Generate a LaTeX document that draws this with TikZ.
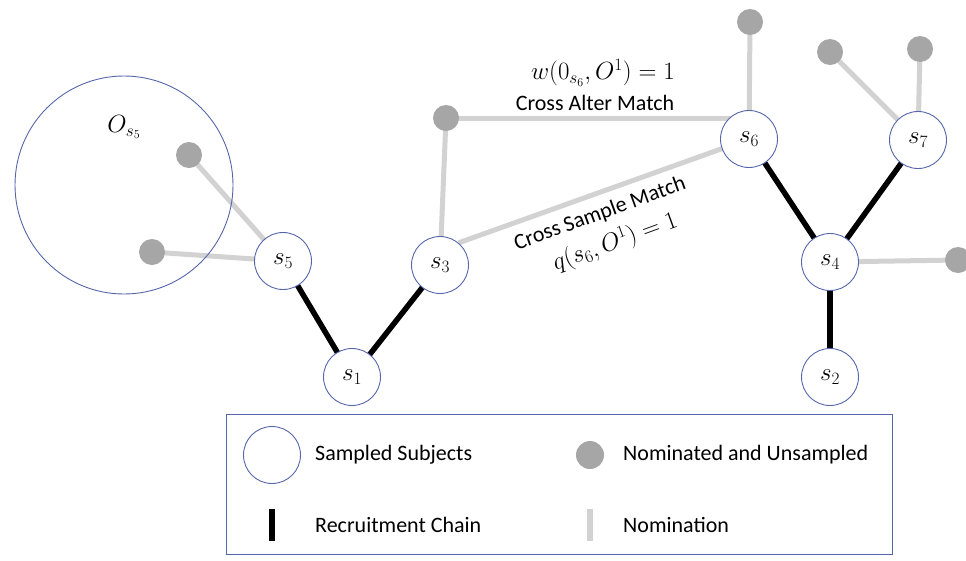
\documentclass[tikz,border=0pt]{standalone}
\usepackage{fontspec}
\setmainfont{Carlito}
\usetikzlibrary{backgrounds}
\definecolor{nodeblue}{HTML}{5566AA}
\definecolor{dotgray}{HTML}{A6A6A6}
\definecolor{linegray}{HTML}{D2D2D2}
\begin{document}
\begin{tikzpicture}[x=1pt,y=-1pt,
  subj/.style={circle,draw=nodeblue,fill=white,line width=0.9pt,minimum size=57pt,inner sep=0pt,font=\fontsize{24}{26}\selectfont},
  gdot/.style={circle,fill=dotgray,minimum size=26pt,inner sep=0pt},
  nom/.style={draw=linegray,line width=5pt},
  rec/.style={draw=black,line width=5.5pt},
  lbl/.style={font=\fontsize{22}{24}\selectfont,inner sep=0pt},
  mlbl/.style={font=\fontsize{26}{28}\selectfont,inner sep=0pt},
  legtext/.style={font=\fontsize{22}{24}\selectfont,anchor=west,inner sep=0pt}]
\useasboundingbox (0,0) rectangle (966,560);
% big neighbourhood circle
\node[circle,draw=nodeblue,line width=0.9pt,minimum size=218pt,inner sep=0pt] (Os5) at (124,185) {};
\node[mlbl] (Os5lbl) at (124,127) {$O_{s_5}$};
% nominated dots
\node[gdot] (g1) at (189,155) {};
\node[gdot] (g2) at (152,252) {};
\node[gdot] (g3) at (446,118) {};
\node[gdot] (g4) at (750,22) {};
\node[gdot] (g5) at (830,52) {};
\node[gdot] (g6) at (920,49) {};
\node[gdot] (g7) at (958,260) {};
% sampled subjects
\node[subj] (s5) at (283,261) {$s_5$};
\node[subj] (s3) at (440,265) {$s_3$};
\node[subj] (s1) at (352,377) {$s_1$};
\node[subj] (s6) at (749,139) {$s_6$};
\node[subj] (s7) at (918,140) {$s_7$};
\node[subj] (s4) at (830,262) {$s_4$};
\node[subj] (s2) at (830,377) {$s_2$};
\begin{pgfonlayer}{background}
\draw[nom] (s5.center) -- (g1.center);
\draw[nom] (s5.center) -- (g2.center);
\draw[nom] (s3.center) -- (g3.center);
\draw[nom] (g3.center) -- (g3.center -| s6.center);
\draw[nom] (s3.50) -- (s6.center);
\draw[nom] (s6.center) -- (g4.center);
\draw[nom] (s7.center) -- (g5.center);
\draw[nom] (s7.center) -- (g6.center);
\draw[nom] (s4.center) -- (g7.center);
\draw[rec] (s5.center) -- (s1.center);
\draw[rec] (s3.center) -- (s1.center);
\draw[rec] (s6.center) -- (s4.center);
\draw[rec] (s7.center) -- (s4.center);
\draw[rec] (s4.center) -- (s2.center);
\end{pgfonlayer}
% labels
\node[mlbl] (wlbl) at (603,73) {$w(0_{s_6},O^1)=1$};
\node[lbl] (calbl) at (595,103) {Cross Alter Match};
\node[lbl,rotate=20] (cslbl) at (600,214) {Cross Sample Match};
\node[mlbl,rotate=20] (qlbl) at (615,242) {$q(s_6,O^1)=1$};
% legend
\node[draw=nodeblue,line width=0.9pt,minimum width=666pt,minimum height=140pt,inner sep=0pt] (legend) at (559,484) {};
\node[subj] (legS) at (272,455) {};
\node[legtext] (legSt) at (315,455) {Sampled Subjects};
\node[gdot,minimum size=28pt] (legN) at (590,455) {};
\node[legtext] (legNt) at (623,455) {Nominated and Unsampled};
\node[fill=black,minimum width=6pt,minimum height=32pt,inner sep=0pt] (legR) at (272,525) {};
\node[legtext] (legRt) at (315,525) {Recruitment Chain};
\node[fill=linegray,minimum width=6pt,minimum height=32pt,inner sep=0pt] (legM) at (590,525) {};
\node[legtext] (legMt) at (623,525) {Nomination};
\end{tikzpicture}
\end{document}
